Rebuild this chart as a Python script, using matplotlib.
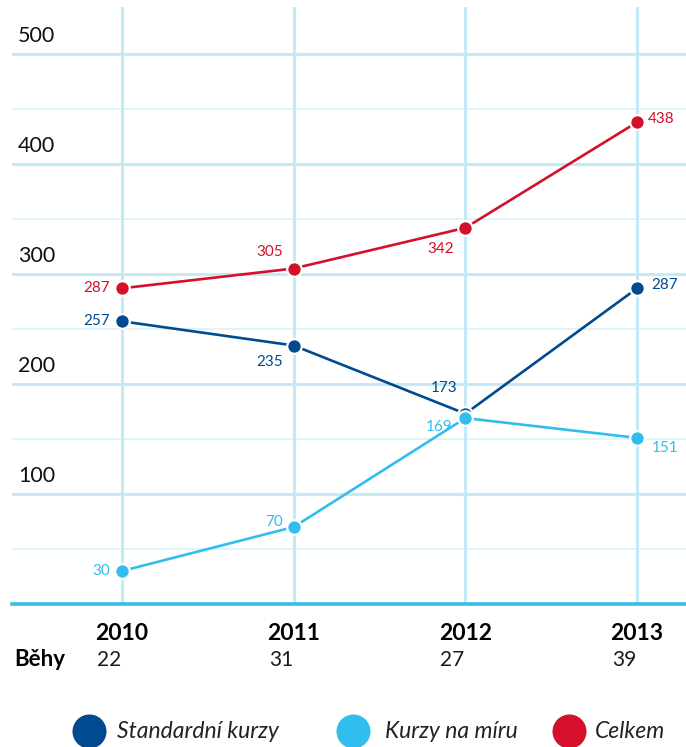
import matplotlib
matplotlib.use("Agg")
import matplotlib.pyplot as plt

plt.rcParams['font.family'] = ['Lato', 'DejaVu Sans']

# ---- data ----
years = ["2010", "2011", "2012", "2013"]
runs = ["22", "31", "27", "39"]
standard = [257, 235, 173, 287]
custom = [30, 70, 169, 151]
total = [287, 305, 342, 438]
series_names = ["Standardní kurzy", "Kurzy na míru", "Celkem"]
row_label = "Běhy"
y_ticks = [100, 200, 300, 400, 500]

C_DARK = "#004a91"
C_LIGHT = "#2fbeee"
C_RED = "#d5102b"
C_GRID = "#c4eaf8"
C_GRID_MINOR = "#dcf3fb"
C_BASE = "#35bde9"

W, H = 686, 747
fig = plt.figure(figsize=(W / 100, H / 100), dpi=100)
ax_l, ax_r, ax_t, ax_b = 12, 686, 7, 604
ax = fig.add_axes([ax_l / W, 1 - ax_b / H, (ax_r - ax_l) / W, (ax_b - ax_t) / H])
for s in ax.spines.values():
    s.set_visible(False)
ax.set_xticks([])
ax.set_yticks([])

px_per_unit = 110 / 100.0
ax.set_ylim(0, (ax_b - ax_t) / px_per_unit)
x0, dx = 122, 171.7
ax.set_xlim((ax_l - x0) / dx, (ax_r - x0) / dx)

xs = list(range(len(years)))

# grid
for v in range(50, 550, 50):
    if v % 100 == 0:
        ax.axhline(v, color=C_GRID, lw=2.2, zorder=1)
    else:
        ax.axhline(v, color=C_GRID_MINOR, lw=1.3, zorder=1)
for x in xs:
    ax.axvline(x, color=C_GRID, lw=2.2, zorder=1)
ax.axhline(0, color=C_BASE, lw=2.6, zorder=2, clip_on=False)

# y labels
ytr = ax.get_yaxis_transform()
for v in y_ticks:
    ax.annotate(str(v), xy=(6 / (ax_r - ax_l), v), xycoords=ytr,
                xytext=(0, 12), textcoords='offset pixels',
                ha='left', va='baseline', fontsize=15.5, color='#111111')

series = [
    (standard, C_DARK, [(-12, 0, 'right'), (-11, -16, 'right'), (-8, 26, 'right'), (14, 3, 'left')]),
    (custom, C_LIGHT, [(-12, 0, 'right'), (-11, 5, 'right'), (-13, -9, 'right'), (15, -10, 'left')]),
    (total, C_RED, [(-12, 0, 'right'), (-11, 16, 'right'), (-11, -21, 'right'), (11, 3, 'left')]),
]

for z, (vals, col, offs) in enumerate(series):
    ax.plot(xs, vals, color=col, lw=1.9, zorder=3 + z, solid_capstyle='butt')
    ax.plot(xs, vals, 'o', ms=10.5, color=col, mec='white', mew=1.6, zorder=3 + z)
    for x, v, (ox, oy, ha) in zip(xs, vals, offs):
        ax.annotate(str(v), xy=(x, v), xytext=(ox, oy), textcoords='offset pixels',
                    ha=ha, va='center', fontsize=11, color=col, zorder=10)

# x labels
xtr = ax.get_xaxis_transform()
for x, yr, r in zip(xs, years, runs):
    ax.annotate(yr, xy=(x, 0), xycoords=xtr, xytext=(0, -29), textcoords='offset pixels',
                ha='center', va='center', fontsize=16.5, fontweight='bold', color='black',
                annotation_clip=False)
    ax.annotate(r, xy=(x, 0), xycoords=xtr, xytext=(-25, -56), textcoords='offset pixels',
                ha='left', va='center', fontsize=15, fontweight='normal', color='#1a1a1a',
                annotation_clip=False)
fig.text(14 / W, 1 - 659 / H, row_label, ha='left', va='center', fontsize=16,
         fontweight='bold', color='black')

# legend
ov = fig.add_axes([0, 0, 1, 1], facecolor='none')
ov.set_xlim(0, W)
ov.set_ylim(H, 0)
ov.axis('off')
leg_circle_x = [89, 353, 569]
leg_text_x = [117, 385, 595]
leg_y = 731
for name, (vals, col, _), cx, tx in zip(series_names, series, leg_circle_x, leg_text_x):
    ov.plot([cx], [leg_y], 'o', ms=24.5, color=col, mec='none', clip_on=False)
    ov.text(tx, leg_y + 1, name, ha='left', va='center', fontsize=16.5,
            style='italic', color='#222222')

fig.savefig("out.png", dpi=100)
